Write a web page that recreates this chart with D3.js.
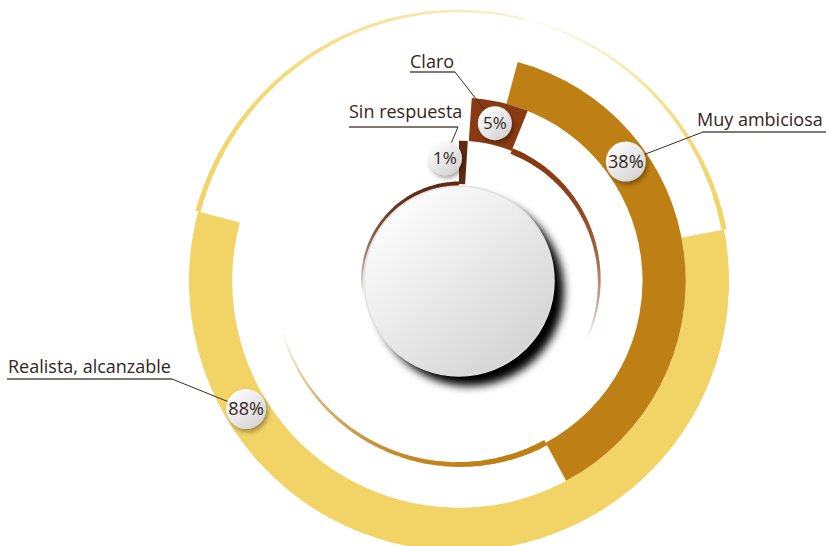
<!DOCTYPE html>
<html>
<head>
<meta charset="utf-8">
<script src="https://cdn.jsdelivr.net/npm/d3@7"></script>
<style>
body { margin: 0; background: #fff; }
svg { display: block; font-family: "Open Sans", sans-serif; }
</style>
</head>
<body>
<svg id="chart" width="826" height="546"></svg>
<script>
const categories = ["Realista, alcanzable", "Muy ambiciosa", "Claro", "Sin respuesta"];
const values = [88, 38, 5, 1];
const valueLabels = ["88%", "38%", "5%", "1%"];
const colors = ["#F2D365", "#BE7F14", "#8A3A12", "#5E2A10"];

// layout: where each thick arc begins (deg from 12 o'clock, clockwise)
const startDeg = [79, 15, 4, 0];
// part of the value drawn as thick band (rest goes into the thin tail)
const thickShare = [0.65, 1, 1, 1];
// bubble angle (deg) + small radial nudge
const bubbleDeg = [239, 54.4, 12.8, 353.5];
const bubbleNudge = [0, 0, 0, 5];
const bubbleR = [20, 20, 17, 17];
const bubbleFont = [18, 18, 17, 17];

const cx = 459, cy = 281;
const rad = d => d * Math.PI / 180;

const svg = d3.select("#chart");
const defs = svg.append("defs");

const ball = defs.append("linearGradient").attr("id", "ball")
    .attr("x1", "0.15").attr("y1", "0.1").attr("x2", "0.85").attr("y2", "0.9");
ball.append("stop").attr("offset", "0").attr("stop-color", "#fdfdfd");
ball.append("stop").attr("offset", "1").attr("stop-color", "#d4d4d4");

const blur = defs.append("filter").attr("id", "blur")
    .attr("x", "-30%").attr("y", "-30%").attr("width", "160%").attr("height", "160%");
blur.append("feGaussianBlur").attr("stdDeviation", 4);

const drop = defs.append("filter").attr("id", "drop")
    .attr("x", "-40%").attr("y", "-40%").attr("width", "180%").attr("height", "180%");
drop.append("feDropShadow").attr("dx", 2).attr("dy", 3).attr("stdDeviation", 2)
    .attr("flood-color", "#000").attr("flood-opacity", 0.35);

// scales
const angle = d3.scaleLinear().domain([0, 100]).range([0, 360]);
const radius = d3.scaleBand().domain(categories.slice().reverse()).range([97, 270]);

const g = svg.append("g").attr("transform", `translate(${cx},${cy})`);
const arc = d3.arc();

// thin fading tails
function tail(edgeR, a0, len, dir, w0, color, fade) {
    const n = 60, step = len / n;
    for (let i = 0; i < n; i++) {
        const t = (i + 0.5) / n;
        const s = a0 + dir * i * step;
        const e = a0 + dir * ((i + 1) * step + 0.3);
        const w = w0 * (1 - 0.75 * t);
        g.append("path")
            .attr("d", arc({innerRadius: edgeR - w / 2, outerRadius: edgeR + w / 2,
                startAngle: rad(Math.min(s, e)), endAngle: rad(Math.max(s, e))}))
            .attr("fill", d3.interpolateRgb(color, "#ffffff")(Math.pow(t, fade)));
    }
}

const r0 = i => radius(categories[i]);
const r1 = i => radius(categories[i]) + radius.bandwidth();
const endDeg = i => startDeg[i] + angle(values[i] * thickShare[i]);

tail(r1(0), endDeg(0), angle(values[0] * (1 - thickShare[0])), 1, 5, colors[0], 1.6);
tail(r1(0), startDeg[0], 65, -1, 5, colors[0], 1.6);
tail(r0(1), endDeg(1), 103, 1, 6, colors[1], 3);
tail(r0(2), endDeg(2), 93, 1, 6, colors[2], 3);
tail(r0(3), startDeg[3], 100, -1, 5, colors[3], 3);

// thick bands
categories.forEach((c, i) => {
    g.append("path")
        .attr("d", arc({innerRadius: r0(i), outerRadius: r1(i),
            startAngle: rad(startDeg[i]), endAngle: rad(endDeg(i))}))
        .attr("fill", colors[i]);
});

// centre ball
g.append("circle").attr("cx", 10).attr("cy", 10).attr("r", 95)
    .attr("fill", "#000").attr("filter", "url(#blur)");
g.append("circle").attr("r", 95).attr("fill", "url(#ball)")
    .attr("stroke", "#e0e0e0").attr("stroke-width", 1.5);

// labels
const labelPos = [
    {x: 8, y: 373, ulY: 379, ul: [7, 172]},
    {x: 697, y: 126, ulY: 132, ul: [703, 826], join: 703},
    {x: 410, y: 68, ulY: 72, ul: [410, 455]},
    {x: 349, y: 118, ulY: 127, ul: [349, 458]}
];
const bubblePos = categories.map((c, i) => {
    const r = r0(i) + radius.bandwidth() / 2 + bubbleNudge[i];
    const a = rad(bubbleDeg[i]);
    return [cx + r * Math.sin(a), cy - r * Math.cos(a)];
});

categories.forEach((c, i) => {
    const L = labelPos[i];
    const jx = L.join !== undefined ? L.join : L.ul[1];
    svg.append("line")
        .attr("x1", L.ul[0]).attr("x2", L.ul[1]).attr("y1", L.ulY).attr("y2", L.ulY)
        .attr("stroke", "#5b4c42").attr("stroke-width", 1.5);
    svg.append("line")
        .attr("x1", jx).attr("y1", L.ulY).attr("x2", bubblePos[i][0]).attr("y2", bubblePos[i][1])
        .attr("stroke", "#3a2c22").attr("stroke-width", 1);
    svg.append("text").attr("x", L.x).attr("y", L.y)
        .attr("font-size", 18).attr("fill", "#35261c").text(c);
});

categories.forEach((c, i) => {
    const [x, y] = bubblePos[i];
    svg.append("circle").attr("cx", x).attr("cy", y).attr("r", bubbleR[i])
        .attr("fill", "url(#ball)").attr("filter", "url(#drop)");
    svg.append("text").attr("x", x).attr("y", y + bubbleFont[i] * 0.36)
        .attr("text-anchor", "middle").attr("font-size", bubbleFont[i])
        .attr("fill", "#35261c").text(valueLabels[i]);
});
</script>
</body>
</html>
